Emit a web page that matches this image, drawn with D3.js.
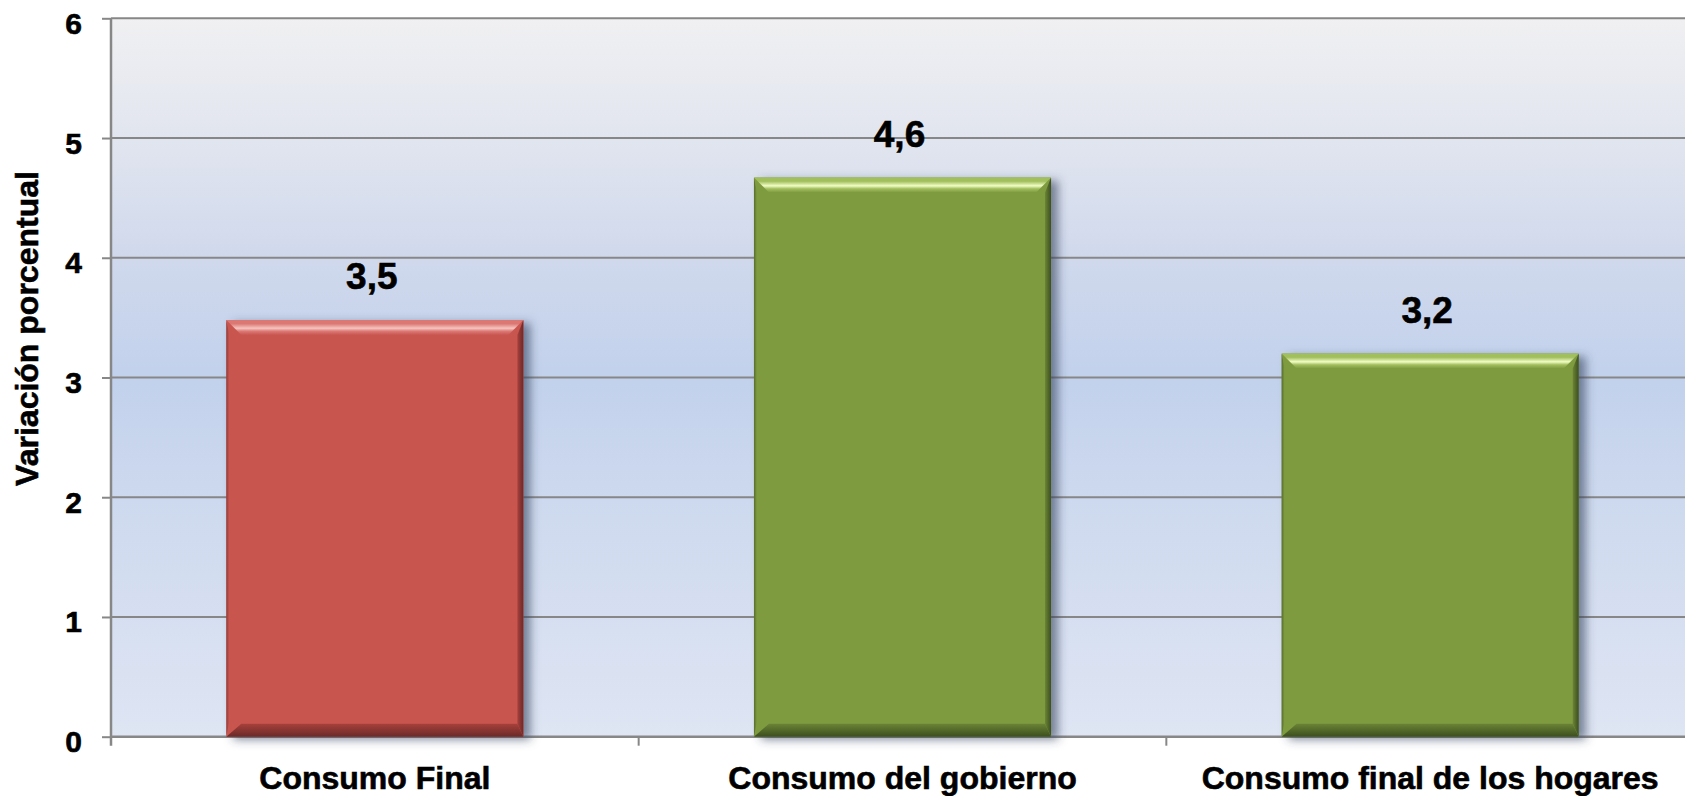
<!DOCTYPE html>
<html>
<head>
<meta charset="utf-8">
<script src="https://cdn.jsdelivr.net/npm/d3@7"></script>
<style>
  html, body { margin: 0; padding: 0; background: #ffffff; overflow: hidden; }
  svg { display: block; }
  text { font-family: "Liberation Sans", Arial, sans-serif; font-weight: bold; fill: #000; stroke: #000; stroke-width: 0.6px; }
</style>
</head>
<body>
<svg id="chart" width="1685" height="796"></svg>
<script>
// ---- data ----
const categories = ["Consumo Final", "Consumo del gobierno", "Consumo final de los hogares"];
const values = [3.48, 4.67, 3.2];
const valueLabels = ["3,5", "4,6", "3,2"];
const barColorKeys = ["red", "green", "green"];
const yTicks = [0, 1, 2, 3, 4, 5, 6];
const yTitle = "Variación porcentual";

// ---- styles ----
const palette = {
  red:   { base: "#c9544f", light: "#f6c4c0", mid: "#dc7873", dark: "#6a2a28", side: "#a8403c" },
  green: { base: "#7f9b41", light: "#f1fdc6", mid: "#a2bf5e", dark: "#3c4e1e", side: "#6a8435" }
};

const plotLeft = 111, plotTop = 18.3, plotBottom = 736.7, plotRight = 1694;

const svg = d3.select("#chart");
const defs = svg.append("defs");

// background gradient
const bg = defs.append("linearGradient").attr("id", "bgGrad")
  .attr("x1", 0).attr("y1", 0).attr("x2", 0).attr("y2", 1);
[["0%", "#f0f0f2"], ["17%", "#e1e5ef"], ["33%", "#d0d9ec"], ["50%", "#c2d1ec"],
 ["67%", "#cdd9ee"], ["83%", "#d6dff1"], ["100%", "#dee5f3"]]
  .forEach(([o, c]) => bg.append("stop").attr("offset", o).attr("stop-color", c));

// shadow filter
const flt = defs.append("filter").attr("id", "shadow")
  .attr("x", "-10%").attr("y", "-10%").attr("width", "130%").attr("height", "120%");
flt.append("feDropShadow").attr("dx", 7).attr("dy", 3).attr("stdDeviation", 5)
  .attr("flood-color", "#34405a").attr("flood-opacity", 0.6);

Object.entries(palette).forEach(([k, p]) => {
  const t = defs.append("linearGradient").attr("id", "top-" + k)
    .attr("x1", 0).attr("y1", 0).attr("x2", 0).attr("y2", 1);
  [["0%", p.mid], ["25%", p.mid], ["55%", p.light], ["75%", p.mid], ["100%", p.base]]
    .forEach(([o, c]) => t.append("stop").attr("offset", o).attr("stop-color", c));
  const r = defs.append("linearGradient").attr("id", "right-" + k)
    .attr("x1", 0).attr("y1", 0).attr("x2", 1).attr("y2", 0);
  [["0%", p.side], ["100%", p.dark]]
    .forEach(([o, c]) => r.append("stop").attr("offset", o).attr("stop-color", c));
  const b = defs.append("linearGradient").attr("id", "bottom-" + k)
    .attr("x1", 0).attr("y1", 0).attr("x2", 0).attr("y2", 1);
  [["0%", p.side], ["100%", p.dark]]
    .forEach(([o, c]) => b.append("stop").attr("offset", o).attr("stop-color", c));
  const l = defs.append("linearGradient").attr("id", "left-" + k)
    .attr("x1", 0).attr("y1", 0).attr("x2", 1).attr("y2", 0);
  [["0%", p.dark], ["100%", p.base]]
    .forEach(([o, c]) => l.append("stop").attr("offset", o).attr("stop-color", c));
});

// ---- scales ----
const x = d3.scaleBand().domain(categories).range([plotLeft, plotRight])
  .paddingInner(0.437).paddingOuter(0.2185);
const y = d3.scaleLinear().domain([0, 6]).range([plotBottom, plotTop]);

// plot background
svg.append("rect").attr("x", plotLeft).attr("y", y(6)).attr("width", plotRight - plotLeft)
  .attr("height", y(0) - y(6)).attr("fill", "url(#bgGrad)");

// gridlines
svg.append("g").selectAll("line").data(yTicks.filter(d => d > 0)).join("line")
  .attr("x1", plotLeft).attr("x2", plotRight).attr("y1", d => y(d)).attr("y2", d => y(d))
  .attr("stroke", "#878787").attr("stroke-width", 2);

// y axis
const yAxis = svg.append("g").attr("transform", `translate(${plotLeft},0)`)
  .call(d3.axisLeft(y).tickValues(yTicks).tickSize(9).tickPadding(0).tickFormat(d3.format("d")));
yAxis.select(".domain").attr("stroke", "#878787").attr("stroke-width", 2.5)
  .attr("d", `M0,${y(6)}V${y(0) + 9}`);
yAxis.selectAll(".tick line").attr("stroke", "#878787").attr("stroke-width", 2);
yAxis.selectAll(".tick text").attr("x", -29).attr("dy", "0.5em")
  .style("font-size", "30px").style("font-family", "'Liberation Sans', Arial, sans-serif")
  .style("font-weight", "bold").attr("fill", "#000");

// x axis line and ticks at band boundaries
svg.append("line").attr("x1", plotLeft).attr("x2", plotRight).attr("y1", y(0)).attr("y2", y(0))
  .attr("stroke", "#878787").attr("stroke-width", 2.5);
svg.append("g").selectAll("line").data(categories.slice(1)).join("line")
  .attr("x1", d => x(d) - x.step() * x.paddingInner() / 2)
  .attr("x2", d => x(d) - x.step() * x.paddingInner() / 2)
  .attr("y1", y(0)).attr("y2", y(0) + 9)
  .attr("stroke", "#878787").attr("stroke-width", 2);

// bars
const bw = x.bandwidth();
const bevel = 15, side = 6;
const bars = svg.append("g").selectAll("g").data(categories).join("g");
bars.each(function (c, i) {
  const g = d3.select(this);
  const k = barColorKeys[i];
  const x0 = x(c), x1 = x0 + bw, t = y(values[i]), b = y(0);
  g.append("rect").attr("x", x0).attr("y", t).attr("width", bw).attr("height", b - t)
    .attr("fill", palette[k].base).attr("filter", "url(#shadow)");
  g.append("polygon").attr("points", [[x0, t], [x0 + 3, t + bevel], [x0 + 3, b - bevel], [x0, b]].join(" "))
    .attr("fill", "url(#left-" + k + ")").attr("opacity", 0.6);
  g.append("polygon").attr("points", [[x0, b], [x0 + bevel, b - 13], [x1 - side, b - 13], [x1, b]].join(" "))
    .attr("fill", "url(#bottom-" + k + ")");
  g.append("polygon").attr("points", [[x1, t], [x1, b], [x1 - side, b - 13], [x1 - side, t + bevel]].join(" "))
    .attr("fill", "url(#right-" + k + ")");
  g.append("polygon").attr("points", [[x0, t], [x1, t], [x1 - bevel, t + bevel], [x0 + bevel, t + bevel]].join(" "))
    .attr("fill", "url(#top-" + k + ")");
});

// value labels
svg.append("g").selectAll("text").data(categories).join("text")
  .attr("x", d => x(d) + bw / 2 - 3)
  .attr("y", (d, i) => y(values[i]) - 31)
  .attr("text-anchor", "middle")
  .style("font-size", "37px")
  .text((d, i) => valueLabels[i]);

// category labels
svg.append("g").selectAll("text").data(categories).join("text")
  .attr("x", d => x(d) + bw / 2)
  .attr("y", 789)
  .attr("text-anchor", "middle")
  .style("font-size", "32px")
  .text(d => d);

// y title
svg.append("text")
  .attr("transform", `translate(38,${(y(6) + y(0)) / 2 - 49}) rotate(-90)`)
  .attr("text-anchor", "middle")
  .style("font-size", "32px")
  .text(yTitle);
</script>
</body>
</html>
